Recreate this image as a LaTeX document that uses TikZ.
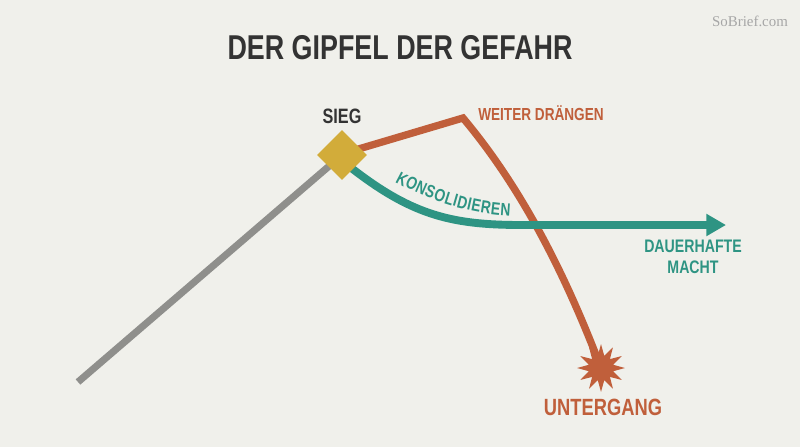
\documentclass[tikz,border=0pt]{standalone}
\usepackage{fontspec}
\setmainfont{Liberation Sans}[FakeStretch=0.78]
\newfontfamily\brandfont{Liberation Serif}
\usepackage{tikz}
\usetikzlibrary{arrows.meta,positioning,shapes.geometric,decorations.text}

\definecolor{bgpaper}{HTML}{F0F0EB}
\definecolor{inkdark}{HTML}{333333}
\definecolor{pathgray}{HTML}{8F8F8C}
\definecolor{winsquare}{HTML}{D2AC3A}
\definecolor{riskred}{HTML}{C05F3B}
\definecolor{holdteal}{HTML}{2E9483}

\begin{document}
\begin{tikzpicture}[
  x=0.025cm, y=-0.025cm,
  label/.style={font=\bfseries\fontsize{#1}{#1}\selectfont, inner sep=0pt},
  route/.style={line width=5.6pt},
  arrow/.style={-{Triangle[length=14pt, width=15pt]}, route}
]

\useasboundingbox[fill=bgpaper] (0,0) rectangle (800,447);

\node[label=24.5, text=inkdark] (title) at (400,48) {DER GIPFEL DER GEFAHR};
\node[font=\brandfont\fontsize{10.6}{10.6}\selectfont, text=black!35] (brand) at (750,21) {SoBrief.com};

% points of the paths
\coordinate (start) at (78,382);
\coordinate (peak) at (463,118);
\coordinate (bend) at (522,225);
\coordinate (goal) at (726,225);
\node[star, star points=12, star point ratio=1.9, fill=riskred, inner sep=0pt, minimum size=34pt] (crash) at (601,368) {};

% outcomes
\draw[route, riskred, line width=5.2pt] (345,153) -- (peak) .. controls (515,180) and (560,260) .. (crash.center);
\draw[arrow, holdteal] (345,163) .. controls (410,215) and (450,225) .. (bend) -- (goal);
\draw[route, pathgray, line width=5pt] (start) -- (342,155);

\node[diamond, fill=winsquare, minimum size=35.5pt, inner sep=0pt] (sieg) at (342,155) {};

% labels
\node[label=14.8, text=inkdark] (siegtext) at (342,116) {SIEG};
\node[label=12.4, text=riskred, anchor=west] (pushtext) at (478,113) {WEITER DRÄNGEN};
\node[label=12.9, text=holdteal, align=center] (powertext) at (693,257) {DAUERHAFTE\\[2pt]MACHT};
\node[label=16.7, text=riskred] (crashtext) at (603,407) {UNTERGANG};

\path[decorate, decoration={text along path, text align=fit to path,
  text={|\bfseries\fontsize{12.6}{12.6}\selectfont\color{holdteal}|KONSOLIDIEREN}}]
  (395,182) .. controls (432,202) and (470,214) .. (510,216);

\end{tikzpicture}
\end{document}
